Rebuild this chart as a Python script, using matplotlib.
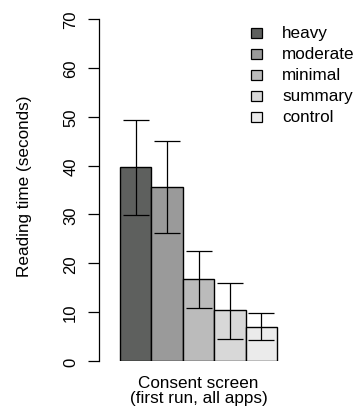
import matplotlib.pyplot as plt
from matplotlib.patches import Rectangle

# Reading time per condition (seconds)
conditions = ["heavy", "moderate", "minimal", "summary", "control"]
means = [39.7, 35.6, 16.7, 10.4, 7.0]
err_low = [29.9, 26.1, 10.8, 4.6, 4.4]
err_high = [49.4, 45.1, 22.5, 16.0, 9.9]
group_label = "Consent screen\n(first run, all apps)"
colors = ["#5e605e", "#9a9a9a", "#bbbbbb", "#d8d8d8", "#ebebeb"]
y_ticks = [0, 10, 20, 30, 40, 50, 60, 70]

plt.rcParams["font.family"] = ["Liberation Sans", "DejaVu Sans"]

W, H = 357, 414
fig = plt.figure(figsize=(W / 100, H / 100), dpi=100)

# axes placed in pixel terms: y-axis line at x=99, y=0 at 362, y=70 at 20
ax = fig.add_axes([99 / W, (H - 362) / H, (W - 99) / W, 342 / H])
ax.patch.set_alpha(0)

xs = list(range(len(conditions)))
ax.bar(xs, means, width=1.0, color=colors, edgecolor="black", linewidth=1.0,
       align="center", zorder=2)

yerr = [[m - lo for m, lo in zip(means, err_low)],
        [hi - m for m, hi in zip(means, err_high)]]
ax.errorbar(xs, means, yerr=yerr, fmt="none", ecolor="black", elinewidth=0.9,
            capsize=9.4, capthick=0.9, zorder=3)

bar_px = 31.4
center0 = 135.7
ax.set_xlim((99 - center0) / bar_px, (W - center0) / bar_px)
ax.set_ylim(0, 70)

for s in ["top", "right", "bottom"]:
    ax.spines[s].set_visible(False)
ax.spines["left"].set_linewidth(0.9)

ax.set_yticks(y_ticks)
ax.set_yticklabels([str(t) for t in y_ticks], rotation=90, va="center")
ax.tick_params(axis="y", direction="out", length=8, width=0.9, pad=7,
               labelsize=12)

ax.set_xticks([sum(xs) / len(xs)])
ax.set_xticklabels([group_label], fontsize=12.3, linespacing=1.05)
ax.tick_params(axis="x", length=0, pad=10)

fig.text(25 / W, 1 - 186.5 / H, "Reading time (seconds)", rotation=90,
         ha="center", va="center", fontsize=12.3)

# legend drawn like R's legend(): squares + labels
for i, (name, col) in enumerate(zip(conditions, colors)):
    cy = 33.5 + 21.1 * i
    fig.patches.append(Rectangle((251 / W, 1 - (cy + 5) / H), 10.5 / W, 10 / H,
                                 transform=fig.transFigure, facecolor=col,
                                 edgecolor="black", linewidth=0.9))
    fig.text(282 / W, 1 - cy / H, name, ha="left", va="center", fontsize=12.3)

fig.savefig("out.png", dpi=100)
